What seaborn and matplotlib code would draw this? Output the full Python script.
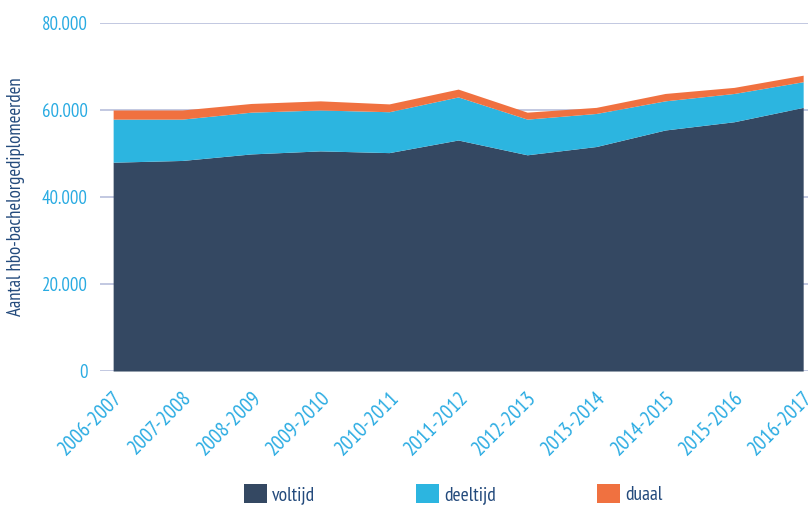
import numpy as np
import pandas as pd
import matplotlib
matplotlib.use("Agg")
import matplotlib.pyplot as plt
import seaborn as sns
from matplotlib.patches import Patch
from matplotlib.ticker import FuncFormatter

# Gegevens
jaren = ["2006-2007", "2007-2008", "2008-2009", "2009-2010", "2010-2011", "2011-2012",
         "2012-2013", "2013-2014", "2014-2015", "2015-2016", "2016-2017"]
voltijd = [48000, 48400, 49900, 50600, 50200, 53100, 49700, 51600, 55400, 57300, 60600]
deeltijd = [9900, 9500, 9600, 9400, 9400, 9900, 8200, 7600, 6700, 6500, 5900]
duaal = [2100, 2100, 2000, 2100, 1800, 1800, 1600, 1400, 1700, 1400, 1500]

kleuren = {"voltijd": "#344862", "deeltijd": "#2cb5e0", "duaal": "#f07140"}
blauw = "#29abe2"
donker = "#234a7c"

sns.set_theme(style="white")
plt.rcParams["font.family"] = ["PT Sans Narrow", "DejaVu Sans"]

df = pd.DataFrame({"jaar": jaren, "voltijd": voltijd, "deeltijd": deeltijd, "duaal": duaal})
df["x"] = np.arange(len(df))
df["top_vol"] = df["voltijd"]
df["top_deel"] = df["top_vol"] + df["deeltijd"]
df["top_duaal"] = df["top_deel"] + df["duaal"]

fig = plt.figure(figsize=(8.08, 5.05), dpi=100)
ax = fig.add_axes([0.1238, 0.2653, 0.8762, 0.6892])

# gridlijnen
for y in [0, 20000, 40000, 60000, 80000]:
    ax.axhline(y, color="#b7bfdc", lw=1.2, zorder=0)

onder = np.zeros(len(df))
for naam, kol in [("voltijd", "top_vol"), ("deeltijd", "top_deel"), ("duaal", "top_duaal")]:
    sns.lineplot(data=df, x="x", y=kol, ax=ax, color=kleuren[naam], lw=0, zorder=2)
    ax.fill_between(df["x"], onder, df[kol], color=kleuren[naam], lw=0, zorder=2)
    onder = df[kol].values

ax.set_xlim(-0.19, 10.07)
ax.set_ylim(0, 80000)
ax.set_yticks([0, 20000, 40000, 60000, 80000])
ax.yaxis.set_major_formatter(FuncFormatter(lambda v, p: f"{int(v):,}".replace(",", ".")))
ax.set_xticks(df["x"])
ax.set_xticklabels(jaren, rotation=45, ha="right", rotation_mode="anchor")
ax.tick_params(axis="both", colors=blauw, length=0)
ax.tick_params(axis="x", pad=12, labelsize=15)
ax.tick_params(axis="y", pad=9, labelsize=13.5)
for s in ax.spines.values():
    s.set_visible(False)

ax.set_xlabel("")
ax.set_ylabel("Aantal hbo-bachelorgediplomeerden", color=donker, fontsize=13.5, labelpad=12)

handles = [Patch(facecolor=kleuren[n], edgecolor="none") for n in ["voltijd", "deeltijd", "duaal"]]
fig.legend(handles, ["voltijd", "deeltijd", "duaal"], loc="center", bbox_to_anchor=(0.561, 0.022),
           ncol=3, frameon=False, fontsize=14, labelcolor=donker, handlelength=1.19,
           handleheight=1.19, handletextpad=0.25, columnspacing=5.2, borderpad=0)

fig.savefig("out.png", dpi=100)
